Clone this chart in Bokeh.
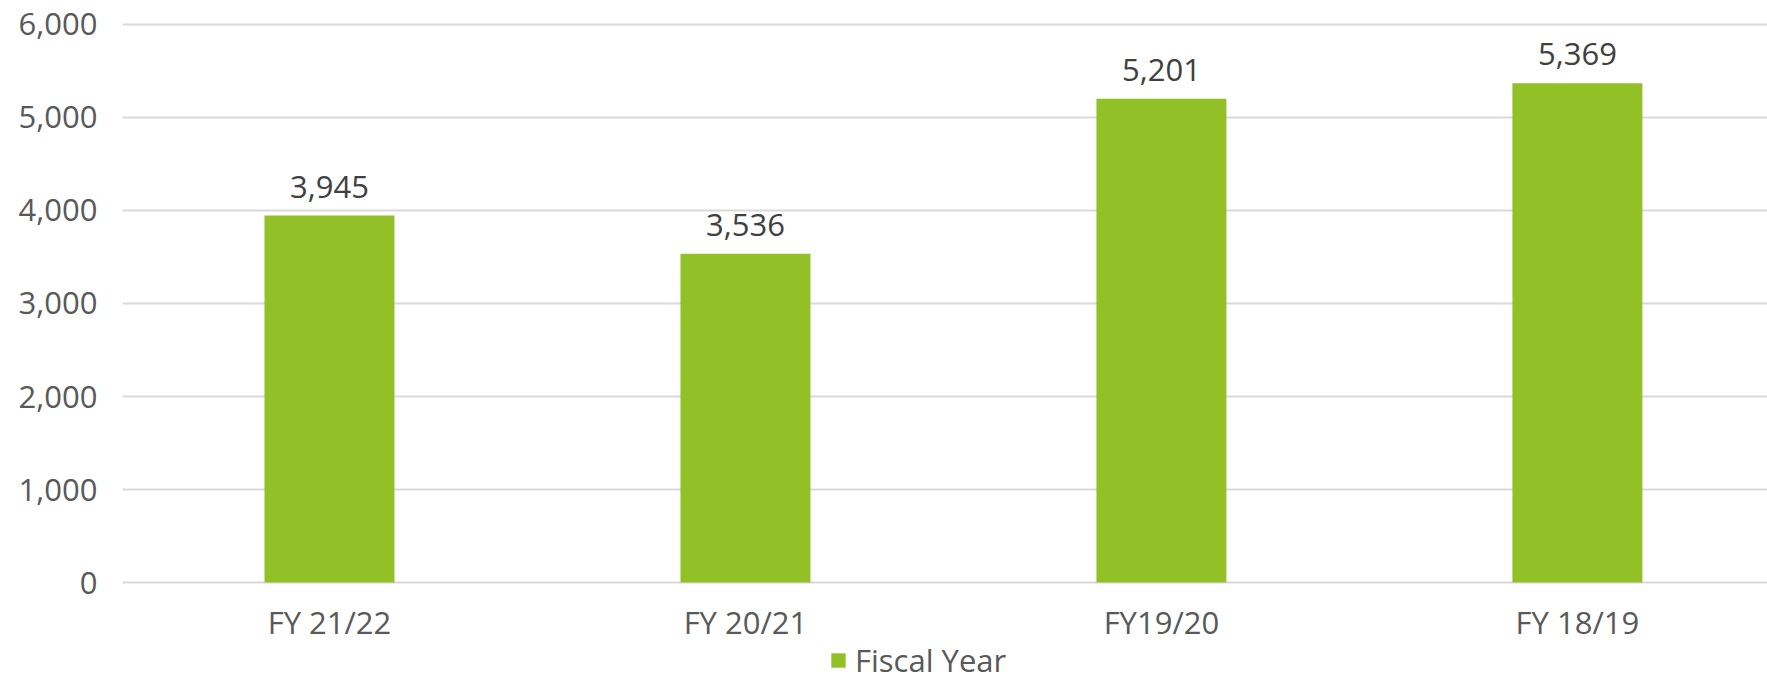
from bokeh.plotting import figure
from bokeh.models import Range1d, ColumnDataSource, Legend, LegendItem, NumeralTickFormatter, FixedTicker, LabelSet
from bokeh.core.properties import value
from bokeh.embed import file_html
from bokeh.resources import INLINE

categories = ["FY 21/22", "FY 20/21", "FY19/20", "FY 18/19"]
values = [3945, 3536, 5201, 5369]
series_name = "Fiscal Year"
y_ticks = [0, 1000, 2000, 3000, 4000, 5000, 6000]

FONT = "Open Sans"
GREEN = "#92C127"

xs = list(range(len(categories)))
src = ColumnDataSource(dict(
    x=xs, top=values, cat=categories, base=[0] * len(categories),
    lbl=[f"{v:,}" for v in values],
))

p = figure(width=1767, height=681, output_backend="svg", toolbar_location=None,
           x_range=Range1d(-0.4976, 3.457), y_range=Range1d(-1064, 6021),
           min_border_left=122, min_border_top=22, min_border_bottom=0, min_border_right=0)
p.outline_line_color = None
p.background_fill_color = "white"
p.border_fill_color = "white"

r = p.vbar(x="x", top="top", width=0.3125, bottom=0, source=src,
           fill_color=GREEN, line_color=None)

# value labels above bars
labels = LabelSet(x="x", y="top", text="lbl", source=src, y_offset=18,
                  text_align="center", text_baseline="alphabetic",
                  text_font=value(FONT), text_font_size="31px", text_color="#404040")
p.add_layout(labels)

# category labels under the zero line
cat_labels = LabelSet(x="x", y="base", text="cat", source=src, y_offset=-51,
                      text_align="center", text_baseline="alphabetic",
                      text_font=value(FONT), text_font_size="31px", text_color="#595959")
p.add_layout(cat_labels)

p.xaxis.visible = False
p.xgrid.grid_line_color = None
p.ygrid.grid_line_color = "#D9D9D9"
p.ygrid.grid_line_width = 2
p.ygrid.ticker = FixedTicker(ticks=y_ticks)
p.yaxis.ticker = FixedTicker(ticks=y_ticks)
p.yaxis.formatter = NumeralTickFormatter(format="0,0")
p.yaxis.axis_line_color = None
p.yaxis.major_tick_line_color = None
p.yaxis.minor_tick_line_color = None
p.yaxis.major_label_text_font = FONT
p.yaxis.major_label_text_font_size = "31px"
p.yaxis.major_label_text_color = "#595959"
p.yaxis.major_label_standoff = 19

legend = Legend(items=[LegendItem(label=series_name, renderers=[r])],
                location=(707, 0), orientation="horizontal",
                padding=0, margin=0, spacing=0,
                glyph_width=18, glyph_height=18, label_standoff=8,
                label_text_font=FONT, label_text_font_size="31px",
                label_text_color="#595959", border_line_color=None,
                background_fill_alpha=0)
p.add_layout(legend, "center")

open("out.html", "w").write(file_html(p, INLINE))
